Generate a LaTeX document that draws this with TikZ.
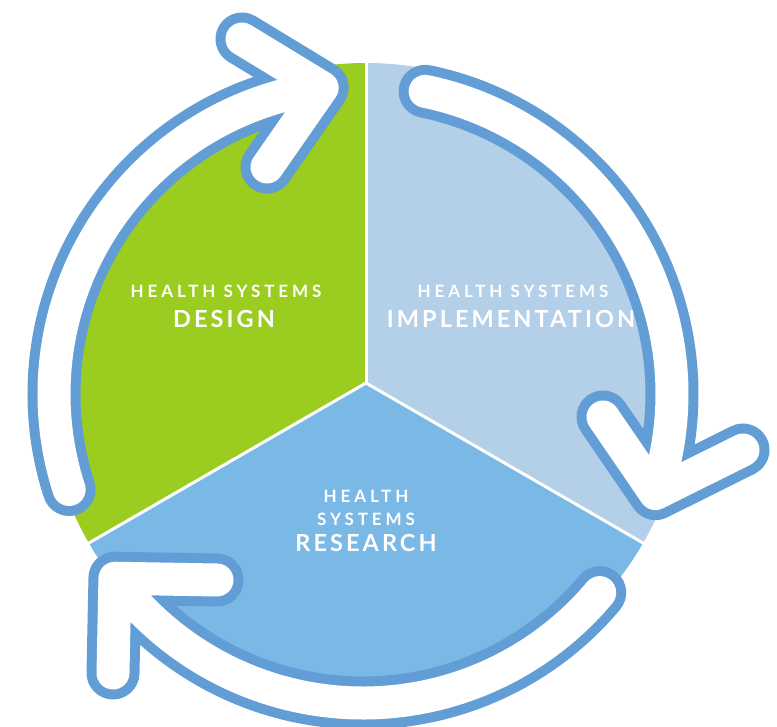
\documentclass[tikz,border=0pt]{standalone}
\usepackage{fontspec}
\setmainfont{Lato}
\newfontfamily\smallcapsfont[LetterSpace=23]{Lato}
\newfontfamily\bigcapsfont[LetterSpace=13]{Lato}
\usetikzlibrary{calc}
\definecolor{pgreen}{RGB}{155,204,32}
\definecolor{plight}{RGB}{180,207,232}
\definecolor{pmid}{RGB}{122,184,230}
\definecolor{aoutline}{RGB}{98,158,213}
\tikzset{
  sepline/.style={draw=white, line width=3pt},
  arrowpath/.style={line cap=round, line join=round},
  arrowouter/.style={arrowpath, draw=aoutline, line width=53pt},
  arrowinner/.style={arrowpath, draw=white, line width=33pt},
  smalllbl/.style={text=white, inner sep=0pt, anchor=base, font=\smallcapsfont\bfseries\fontsize{17}{20}\selectfont},
  biglbl/.style={text=white, inner sep=0pt, anchor=base, font=\bigcapsfont\bfseries\fontsize{23.5}{28}\selectfont}
}
\begin{document}
\begin{tikzpicture}[x=1pt,y=1pt]
\useasboundingbox (0,0) rectangle (777,-727);
\fill[white] (0,0) rectangle (777,-727);
\coordinate (P) at (366,-383);
\coordinate (Q) at (363,-394);
% pie sectors
\fill[pgreen] (P) -- ($(P)+(90:320pt)$) arc[start angle=90,end angle=210,radius=320pt] -- cycle;
\fill[plight] (P) -- ($(P)+(-30:320pt)$) arc[start angle=-30,end angle=90,radius=320pt] -- cycle;
\fill[pmid] (P) -- ($(P)+(210:320pt)$) arc[start angle=210,end angle=330,radius=320pt] -- cycle;
\coordinate (s1) at ($(P)+(90:322pt)$);
\coordinate (s2) at ($(P)+(210:322pt)$);
\coordinate (s3) at ($(P)+(330:322pt)$);
\draw[sepline] (P) -- (s1);
\draw[sepline] (P) -- (s2);
\draw[sepline] (P) -- (s3);
% labels
\node[smalllbl] (d1) at (226,-298) {HEALTH SYSTEMS};
\node[biglbl] (d2) at (224,-327.5) {DESIGN};
\node[smalllbl] (i1) at (513,-298) {HEALTH SYSTEMS};
\node[biglbl] (i2) at (511,-327.5) {IMPLEMENTATION};
\node[smalllbl] (r1) at (366,-502) {HEALTH};
\node[smalllbl] (r2) at (366,-525.5) {SYSTEMS};
\node[biglbl] (r3) at (366,-551.5) {RESEARCH};
% arrows: tail angle / tip angle / name / barb ends
\foreach \s/\e/\n/\ux/\uy/\lx/\ly in {198/97.6/a/242/39/267/167, 78.4/-18.8/b/743/450/603/417, 320/216.6/c/113/673/217/580}{
  \coordinate (tail\n) at ($(Q)+(\s:309pt)$);
  \coordinate (tip\n) at ($(Q)+(\e:309pt)$);
  \coordinate (barbu\n) at (\ux,-\uy);
  \coordinate (barbl\n) at (\lx,-\ly);
}
\foreach \s/\e/\n in {198/97.6/a, 78.4/-18.8/b, 320/216.6/c}{
  \draw[arrowouter] (tail\n) arc[start angle=\s,end angle=\e,radius=309pt] -- (barbu\n) (tip\n) -- (barbl\n);
}
\foreach \s/\e/\n in {198/97.6/a, 78.4/-18.8/b, 320/216.6/c}{
  \draw[arrowinner] (tail\n) arc[start angle=\s,end angle=\e,radius=309pt] -- (barbu\n) (tip\n) -- (barbl\n);
}
\end{tikzpicture}
\end{document}
